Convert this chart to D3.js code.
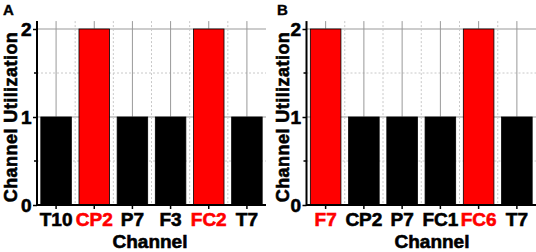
<!DOCTYPE html>
<html>
<head>
<meta charset="utf-8">
<script src="https://cdn.jsdelivr.net/npm/d3@7"></script>
<style>
  html, body { margin: 0; padding: 0; background: #fff; }
  svg { display: block; font-family: "Liberation Sans", Arial, sans-serif; font-weight: bold; }
</style>
</head>
<body>
<div id="container"></div>
<script>
/* DATA */
const channelsA = ["T10", "CP2", "P7", "F3", "FC2", "T7"];
const utilA = [1, 2, 1, 1, 2, 1];
const highlightA = ["CP2", "FC2"];

const channelsB = ["F7", "CP2", "P7", "FC1", "FC6", "T7"];
const utilB = [2, 1, 1, 1, 2, 1];
const highlightB = ["F7", "FC6"];

const yTicks = [0, 1, 2];
const yMinorTicks = [0.5, 1.5];

/* CONSTANTS */
const width = 536, height = 252;
const red = "#ff0000";
const heavy = 0.6; // text outline so the bold reads as heavy as the original
const tickFont = 19;

const svg = d3.select("#container")
  .append("svg")
  .attr("width", width)
  .attr("height", height);

// shared y scale, both panels use the same plot height
const yScale = d3.scaleLinear()
  .domain([0, 2])
  .range([205, 29]);
const yTop = yScale(2.09);

function drawPanel(p) {
  const xScale = d3.scaleBand()
    .domain(p.channels)
    .range([p.x0, p.x1])
    .paddingInner(0.2)
    .paddingOuter(0.1);

  const g = svg.append("g");

  // grid: horizontal
  g.selectAll(".hgrid")
    .data([1, 2])
    .join("line")
    .attr("x1", p.x0).attr("x2", p.x1)
    .attr("y1", d => yScale(d)).attr("y2", d => yScale(d))
    .attr("stroke", "#999").attr("stroke-width", 1);
  g.selectAll(".hgridMinor")
    .data(yMinorTicks)
    .join("line")
    .attr("x1", p.x0).attr("x2", p.x1)
    .attr("y1", d => yScale(d)).attr("y2", d => yScale(d))
    .attr("stroke", "#c8c8c8").attr("stroke-width", 1)
    .attr("stroke-dasharray", "2,2");

  // grid: vertical at band centres (solid) and boundaries (dotted)
  g.selectAll(".vgrid")
    .data(p.channels)
    .join("line")
    .attr("x1", d => xScale(d) + xScale.bandwidth() / 2)
    .attr("x2", d => xScale(d) + xScale.bandwidth() / 2)
    .attr("y1", yTop).attr("y2", yScale(0))
    .attr("stroke", "#999").attr("stroke-width", 1);
  g.selectAll(".vgridMinor")
    .data(p.channels.slice(1))
    .join("line")
    .attr("x1", d => xScale(d) - xScale.step() * xScale.paddingInner() / 2)
    .attr("x2", d => xScale(d) - xScale.step() * xScale.paddingInner() / 2)
    .attr("y1", yTop).attr("y2", yScale(0))
    .attr("stroke", "#c8c8c8").attr("stroke-width", 1)
    .attr("stroke-dasharray", "2,2");

  // bars
  g.selectAll(".bar")
    .data(p.channels.map((c, i) => ({ c, v: p.values[i] })))
    .join("rect")
    .attr("x", d => xScale(d.c))
    .attr("y", d => yScale(d.v))
    .attr("width", xScale.bandwidth())
    .attr("height", d => yScale(0) - yScale(d.v))
    .attr("fill", d => p.highlight.includes(d.c) ? red : "#000")
    .attr("stroke", "#000")
    .attr("stroke-width", 0.8);

  // + AXES
  const yAxis = d3.axisLeft(yScale)
    .tickValues(yTicks)
    .tickFormat(d3.format("d"))
    .tickSize(4)
    .tickSizeOuter(0);
  const yAxisGroup = g.append("g")
    .attr("transform", `translate(${p.x0}, 0)`)
    .call(yAxis);
  yAxisGroup.select(".domain").remove();
  yAxisGroup.selectAll(".tick line").attr("stroke-width", 1.5);
  yAxisGroup.selectAll(".tick text")
    .attr("font-size", tickFont)
    .attr("font-family", "Liberation Sans, Arial, sans-serif")
    .attr("font-weight", "bold")
    .attr("fill", "#000")
    .attr("stroke", "#000")
    .attr("stroke-width", heavy)
    .attr("x", -5.5)
    .attr("dy", "0.36em");
  yAxisGroup.selectAll(".minor")
    .data(yMinorTicks)
    .join("line")
    .attr("x1", -3).attr("x2", 0)
    .attr("y1", d => yScale(d)).attr("y2", d => yScale(d))
    .attr("stroke", "#000").attr("stroke-width", 1.5);
  g.append("line")
    .attr("x1", p.x0).attr("x2", p.x0)
    .attr("y1", yTop).attr("y2", yScale(0) + 1)
    .attr("stroke", "#000").attr("stroke-width", 2);

  const xAxis = d3.axisBottom(xScale)
    .tickSize(4)
    .tickSizeOuter(0);
  const xAxisGroup = g.append("g")
    .attr("transform", `translate(0, ${yScale(0)})`)
    .call(xAxis);
  xAxisGroup.select(".domain").remove();
  xAxisGroup.selectAll(".tick line").attr("stroke-width", 1.5);
  xAxisGroup.selectAll(".tick text")
    .attr("font-size", tickFont)
    .attr("font-family", "Liberation Sans, Arial, sans-serif")
    .attr("font-weight", "bold")
    .attr("y", 7.5)
    .attr("dy", "0.71em")
    .attr("fill", d => p.highlight.includes(d) ? red : "#000")
    .attr("stroke", d => p.highlight.includes(d) ? red : "#000")
    .attr("stroke-width", heavy);
  g.append("line")
    .attr("x1", p.x0).attr("x2", p.x1)
    .attr("y1", yScale(0)).attr("y2", yScale(0))
    .attr("stroke", "#000").attr("stroke-width", 2);

  // axis titles
  g.append("text")
    .attr("x", p.xTitleX)
    .attr("y", 247.5)
    .attr("text-anchor", "middle")
    .attr("font-size", 19)
    .attr("stroke", "#000").attr("stroke-width", heavy)
    .text("Channel");

  g.append("text")
    .attr("transform", `translate(${p.yTitleX}, 117) rotate(-90)`)
    .attr("text-anchor", "middle")
    .attr("font-size", 18)
    .attr("letter-spacing", 0.45)
    .attr("stroke", "#000").attr("stroke-width", heavy)
    .text("Channel Utilization");

  // panel letter
  g.append("text")
    .attr("x", p.letterX)
    .attr("y", 15)
    .attr("font-size", 15)
    .attr("stroke", "#000").attr("stroke-width", 0.4)
    .text(p.letter);
}

drawPanel({ channels: channelsA, values: utilA, highlight: highlightA,
  x0: 37, x1: 266, xTitleX: 150, yTitleX: 16.5, letter: "A", letterX: 3 });
drawPanel({ channels: channelsB, values: utilB, highlight: highlightB,
  x0: 306.5, x1: 536, xTitleX: 432, yTitleX: 288.5, letter: "B", letterX: 277 });
</script>
</body>
</html>
